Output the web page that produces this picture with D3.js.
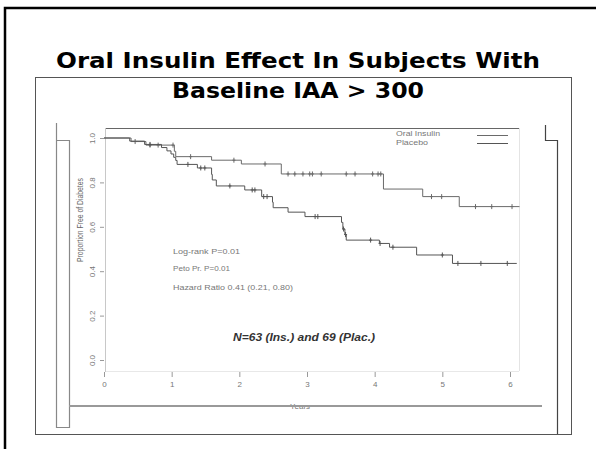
<!DOCTYPE html>
<html>
<head>
<meta charset="utf-8">
<script src="https://cdn.jsdelivr.net/npm/d3@7"></script>
<style>
body { margin: 0; background: #fff; }
svg { display: block; }
</style>
</head>
<body>
<script>
const years = [0, 1, 2, 3, 4, 5, 6];
const survTicks = [0, 0.2, 0.4, 0.6, 0.8, 1.0];
const seriesNames = ["Oral Insulin", "Placebo"];
const titleLines = ["Oral Insulin Effect In Subjects With", "Baseline IAA > 300"];
const statLines = ["Log-rank P=0.01", "Peto Pr. P=0.01", "Hazard Ratio 0.41 (0.21, 0.80)"];
const nNote = "N=63 (Ins.) and 69 (Plac.)";

// oral insulin: event time, survival after the event
const insulinTimes = [0, 0.40, 0.62, 1.04, 1.06, 1.59, 2.03, 2.62, 4.13, 4.71, 5.25, 6.14];
const insulinSurv  = [1, 0.984, 0.968, 0.94, 0.916, 0.900, 0.883, 0.838, 0.770, 0.736, 0.691, 0.691];
const insulinCensor = [0.46, 0.68, 0.80, 1.02, 1.28, 1.92, 2.38, 2.72, 2.82, 2.94, 3.04, 3.08, 3.21,
  3.58, 3.71, 3.97, 4.05, 4.09, 4.84, 4.99, 5.49, 5.73, 6.03];

// placebo
const placeboTimes = [0, 0.38, 0.60, 0.85, 0.93, 0.99, 1.03, 1.06, 1.08, 1.38, 1.59, 1.60, 1.66, 2.08,
  2.33, 2.49, 2.50, 2.72, 2.97, 3.51, 3.53, 3.56, 3.58, 4.07, 4.22, 4.62, 5.15, 6.10];
const placeboSurv = [1, 0.986, 0.971, 0.957, 0.942, 0.928, 0.913, 0.899, 0.881, 0.865, 0.836, 0.811, 0.784, 0.766,
  0.736, 0.711, 0.686, 0.666, 0.646, 0.62, 0.59, 0.565, 0.54, 0.525, 0.508, 0.473, 0.435, 0.435];
const placeboCensor = [0.68, 1.24, 1.43, 1.49, 1.86, 2.19, 2.23, 2.36, 2.41, 3.12, 3.16, 3.54, 3.57,
  3.94, 4.08, 4.27, 5.0, 5.23, 5.57, 5.96];

const width = 596, height = 449;
const axisFont = "'Liberation Sans', Arial, sans-serif";

const svg = d3.select("body").append("svg")
  .attr("width", width)
  .attr("height", height);

svg.append("rect").attr("width", width).attr("height", height).attr("fill", "#fff");

// slide frame
svg.append("path").attr("d", "M5,449V8H596")
  .attr("fill", "none").attr("stroke", "#000").attr("stroke-width", 2.5);

// pasted picture frame
svg.append("rect").attr("x", 35.5).attr("y", 77.5).attr("width", 536).attr("height", 357)
  .attr("fill", "none").attr("stroke", "#555").attr("stroke-width", 1);

// side brackets of the scanned figure
svg.append("path").attr("d", "M56.5,123V427.5H69.5V140.5H56.5")
  .attr("fill", "none").attr("stroke", "#888").attr("stroke-width", 1.2);
svg.append("path").attr("d", "M545.5,125V140.5H557.5V434")
  .attr("fill", "none").attr("stroke", "#444").attr("stroke-width", 1.2);

// title
const title = svg.append("g")
  .attr("font-family", "'Comic Sans MS', 'DejaVu Sans', sans-serif")
  .attr("font-weight", "bold")
  .attr("font-size", 22)
  .attr("fill", "#000")
  .attr("text-anchor", "middle");
title.selectAll("text").data(titleLines).enter().append("text")
  .attr("x", 298)
  .attr("y", (d, i) => i === 0 ? 68 : 98)
  .attr("textLength", (d, i) => i === 0 ? 484 : 252)
  .attr("lengthAdjust", "spacingAndGlyphs")
  .text(d => d);

const x = d3.scaleLinear().domain([0, 6]).range([104, 510]);
const y = d3.scaleLinear().domain([0, 1]).range([360, 138]);

// plot region box
svg.append("line").attr("x1", 105).attr("x2", 519).attr("y1", 128.5).attr("y2", 128.5)
  .attr("stroke", "#666").attr("stroke-width", 1);
svg.append("line").attr("x1", 519.5).attr("x2", 519.5).attr("y1", 128).attr("y2", 371)
  .attr("stroke", "#e4e4e4");
svg.append("line").attr("x1", 105).attr("x2", 519).attr("y1", 371.5).attr("y2", 371.5)
  .attr("stroke", "#e8e8e8");
svg.append("line").attr("x1", 105.5).attr("x2", 105.5).attr("y1", 128).attr("y2", 372)
  .attr("stroke", "#c8c8c8");

// x axis
const xAxis = svg.append("g")
  .attr("transform", "translate(0,372)")
  .call(d3.axisBottom(x).tickValues(years).tickSize(5).tickPadding(4).tickFormat(d3.format("d")));
xAxis.select(".domain").remove();
xAxis.selectAll("line").attr("stroke", "#999");
xAxis.selectAll("text").attr("font-family", axisFont).attr("font-size", 8).attr("fill", "#777");

// y axis, labels turned like the R default
const yAxis = svg.append("g")
  .attr("transform", "translate(104,0)")
  .call(d3.axisLeft(y).tickValues(survTicks).tickSize(4).tickFormat(d3.format(".1f")));
yAxis.select(".domain").remove();
yAxis.selectAll("line").attr("stroke", "#999");
yAxis.selectAll("text")
  .attr("x", 0).attr("dy", "0.35em")
  .attr("transform", "translate(-12,0) rotate(-90)")
  .attr("text-anchor", "middle")
  .attr("font-family", axisFont).attr("font-size", 8).attr("fill", "#777");

svg.append("text")
  .attr("transform", "translate(80,220) rotate(-90)")
  .attr("dy", "0.35em")
  .attr("text-anchor", "middle")
  .attr("font-family", axisFont).attr("font-size", 8.5).attr("fill", "#666")
  .attr("textLength", 84).attr("lengthAdjust", "spacingAndGlyphs")
  .text("Proportion Free of Diabetes");

svg.append("text")
  .attr("x", 300).attr("y", 409)
  .attr("text-anchor", "middle")
  .attr("font-family", axisFont).attr("font-size", 8).attr("fill", "#777")
  .text("Years");

// the heavy grey rule under the axis
svg.append("line").attr("x1", 69).attr("x2", 542).attr("y1", 406).attr("y2", 406)
  .attr("stroke", "#999").attr("stroke-width", 2);

// survival curves
const series = [
  { name: seriesNames[0], times: insulinTimes, surv: insulinSurv, censor: insulinCensor, color: "#6a6a6a" },
  { name: seriesNames[1], times: placeboTimes, surv: placeboSurv, censor: placeboCensor, color: "#555" }
];

const step = d3.line()
  .x(d => x(d[0]))
  .y(d => y(d[1]))
  .curve(d3.curveStepAfter);

const survAt = (s, t) => s.surv[Math.max(0, d3.bisectRight(s.times, t) - 1)];

series.forEach(s => {
  svg.append("path")
    .datum(d3.zip(s.times, s.surv))
    .attr("d", step)
    .attr("fill", "none")
    .attr("stroke", s.color)
    .attr("stroke-width", 1);

  const marks = svg.append("g").attr("stroke", s.color).attr("stroke-width", 1);
  marks.selectAll("line.v").data(s.censor).enter().append("line")
    .attr("class", "v")
    .attr("x1", d => x(d)).attr("x2", d => x(d))
    .attr("y1", d => y(survAt(s, d)) - 2.5)
    .attr("y2", d => y(survAt(s, d)) + 2.5);
  marks.selectAll("line.h").data(s.censor).enter().append("line")
    .attr("class", "h")
    .attr("x1", d => x(d) - 1.5).attr("x2", d => x(d) + 1.5)
    .attr("y1", d => y(survAt(s, d)))
    .attr("y2", d => y(survAt(s, d)));
});

// legend
const legend = svg.append("g");
legend.selectAll("text").data(seriesNames).enter().append("text")
  .attr("x", 396)
  .attr("y", (d, i) => 136 + i * 9)
  .attr("font-family", axisFont).attr("font-size", 8).attr("fill", "#777")
  .attr("textLength", (d, i) => i === 0 ? 44 : 32)
  .attr("lengthAdjust", "spacingAndGlyphs")
  .text(d => d);
legend.selectAll("line").data(series).enter().append("line")
  .attr("x1", 477).attr("x2", 508)
  .attr("y1", (d, i) => 135.5 + i * 8)
  .attr("y2", (d, i) => 135.5 + i * 8)
  .attr("stroke", d => d.color);

// test statistics
svg.append("g").selectAll("text").data(statLines).enter().append("text")
  .attr("x", 173)
  .attr("y", (d, i) => [254, 271, 290][i])
  .attr("font-family", axisFont).attr("font-size", 8).attr("fill", "#777")
  .attr("textLength", (d, i) => [67, 57, 120][i])
  .attr("lengthAdjust", "spacingAndGlyphs")
  .text(d => d);

svg.append("text")
  .attr("x", 304).attr("y", 341)
  .attr("text-anchor", "middle")
  .attr("font-family", axisFont).attr("font-size", 11)
  .attr("font-weight", "bold").attr("font-style", "italic")
  .attr("fill", "#333")
  .attr("textLength", 142).attr("lengthAdjust", "spacingAndGlyphs")
  .text(nNote);
</script>
</body>
</html>
